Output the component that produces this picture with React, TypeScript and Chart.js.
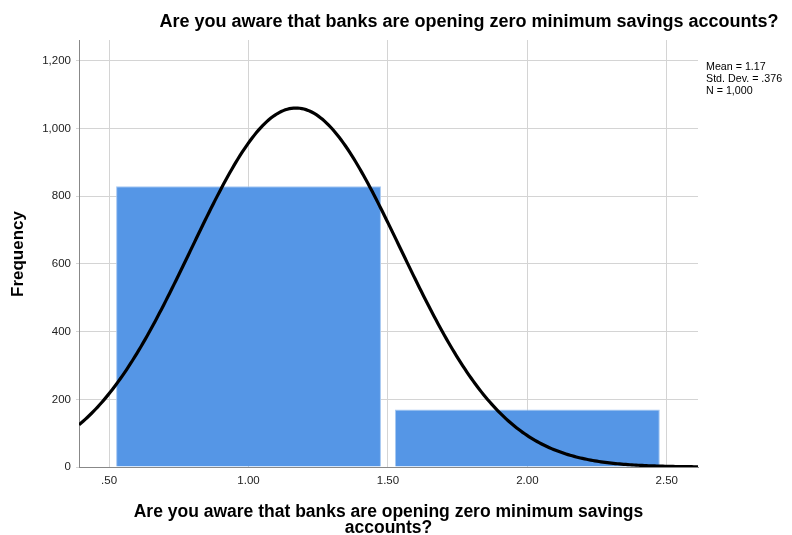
import React, { useEffect, useRef } from "react";
import { Chart, registerables } from "chart.js";

Chart.register(...registerables);

const binCenters = [1, 2];
const binCounts = [830, 170];
const xTickValues = [0.5, 1.0, 1.5, 2.0, 2.5];
const xTickLabels = [".50", "1.00", "1.50", "2.00", "2.50"];
const yTickValues = [0, 200, 400, 600, 800, 1000, 1200];
const yTickLabels = ["0", "200", "400", "600", "800", "1,000", "1,200"];
const statMean = 1.17;
const statSd = 0.376;
const statN = 1000;
const binWidth = 1;
const statLines = ["Mean = 1.17", "Std. Dev. = .376", "N = 1,000"];
const titleText = "Are you aware that banks are opening zero minimum savings accounts?";
const xTitleLines = ["Are you aware that banks are opening zero minimum savings", "accounts?"];
const yTitleText = "Frequency";

const X_MIN = 0.392;
const X_MAX = 2.612;
const Y_MAX = 1262;

const FONT = "'Liberation Sans', Arial, sans-serif";

function normalCurve() {
  const pts: { x: number; y: number }[] = [];
  const steps = 300;
  for (let i = 0; i <= steps; i++) {
    const x = X_MIN + ((X_MAX - X_MIN) * i) / steps;
    const z = (x - statMean) / statSd;
    const y = (statN * binWidth * Math.exp(-0.5 * z * z)) / (statSd * Math.sqrt(2 * Math.PI));
    pts.push({ x, y });
  }
  return pts;
}

const textPlugin = {
  id: "textPlugin",
  afterDraw(chart: any) {
    const ctx = chart.ctx;
    const area = chart.chartArea;
    ctx.save();
    ctx.fillStyle = "#000";
    ctx.textBaseline = "middle";
    ctx.textAlign = "center";
    ctx.font = `bold 18px ${FONT}`;
    ctx.fillText(titleText, 469, 22);
    const cx = (area.left + area.right) / 2;
    ctx.font = `bold 17.5px ${FONT}`;
    ctx.fillText(xTitleLines[0], cx, 512);
    ctx.fillText(xTitleLines[1], cx, 528);
    ctx.save();
    ctx.translate(18, 254);
    ctx.rotate(-Math.PI / 2);
    ctx.font = `bold 17px ${FONT}`;
    ctx.fillText(yTitleText, 0, 0);
    ctx.restore();
    ctx.textAlign = "left";
    ctx.font = `10.7px ${FONT}`;
    statLines.forEach((s, i) => ctx.fillText(s, 706, 67 + i * 12));
    ctx.restore();
  },
};

export default function App() {
  const ref = useRef<HTMLCanvasElement>(null);
  useEffect(() => {
    if (!ref.current) return;
    const chart = new Chart(ref.current, {
      type: "bar",
      data: {
        datasets: [
          {
            type: "line",
            data: normalCurve(),
            borderColor: "#000",
            borderWidth: 3.2,
            pointRadius: 0,
            tension: 0,
            order: 0,
          } as any,
          {
            type: "bar",
            data: binCenters.map((x, i) => ({ x, y: binCounts[i] })),
            backgroundColor: "#5596E6",
            borderColor: "#a6c8f2",
            borderWidth: 1,
            barPercentage: 1.9,
            categoryPercentage: 1,
            order: 1,
          } as any,
        ],
      },
      options: {
        animation: false,
        responsive: false,
        events: [],
        layout: { padding: { top: 40, right: 94, left: 0, bottom: 0 } },
        plugins: { legend: { display: false }, tooltip: { enabled: false }, title: { display: false } },
        scales: {
          x: {
            type: "linear",
            min: X_MIN,
            max: X_MAX,
            offset: false,
            afterBuildTicks: (s: any) => {
              s.ticks = xTickValues.map((v) => ({ value: v }));
            },
            afterFit: (s: any) => {
              s.height = 68;
            },
            ticks: {
              autoSkip: false,
              maxRotation: 0,
              color: "#222",
              font: { family: FONT, size: 11.5 },
              padding: 7,
              callback: (v: any) => {
                const i = xTickValues.findIndex((t) => Math.abs(t - v) < 1e-6);
                return i >= 0 ? xTickLabels[i] : "";
              },
            },
            grid: { color: "#d4d4d4", lineWidth: 1, drawTicks: false, offset: false },
            border: { color: "#888", width: 1 },
          },
          y: {
            type: "linear",
            min: 0,
            max: Y_MAX,
            afterBuildTicks: (s: any) => {
              s.ticks = yTickValues.map((v) => ({ value: v }));
            },
            afterFit: (s: any) => {
              s.width = 79;
            },
            ticks: {
              color: "#222",
              font: { family: FONT, size: 11.5 },
              padding: 5,
              callback: (v: any) => {
                const i = yTickValues.findIndex((t) => Math.abs(t - v) < 1e-6);
                return i >= 0 ? yTickLabels[i] : "";
              },
            },
            grid: { color: "#d4d4d4", lineWidth: 1, drawTicks: true, tickLength: 3 },
            border: { color: "#888", width: 1 },
          },
        },
      } as any,
      plugins: [textPlugin],
    });
    return () => chart.destroy();
  }, []);
  return (
    <div style={{ position: "fixed", left: 0, top: 0, width: 792, height: 535, background: "#fff" }}>
      <canvas ref={ref} width={792} height={535} style={{ display: "block" }} />
    </div>
  );
}
